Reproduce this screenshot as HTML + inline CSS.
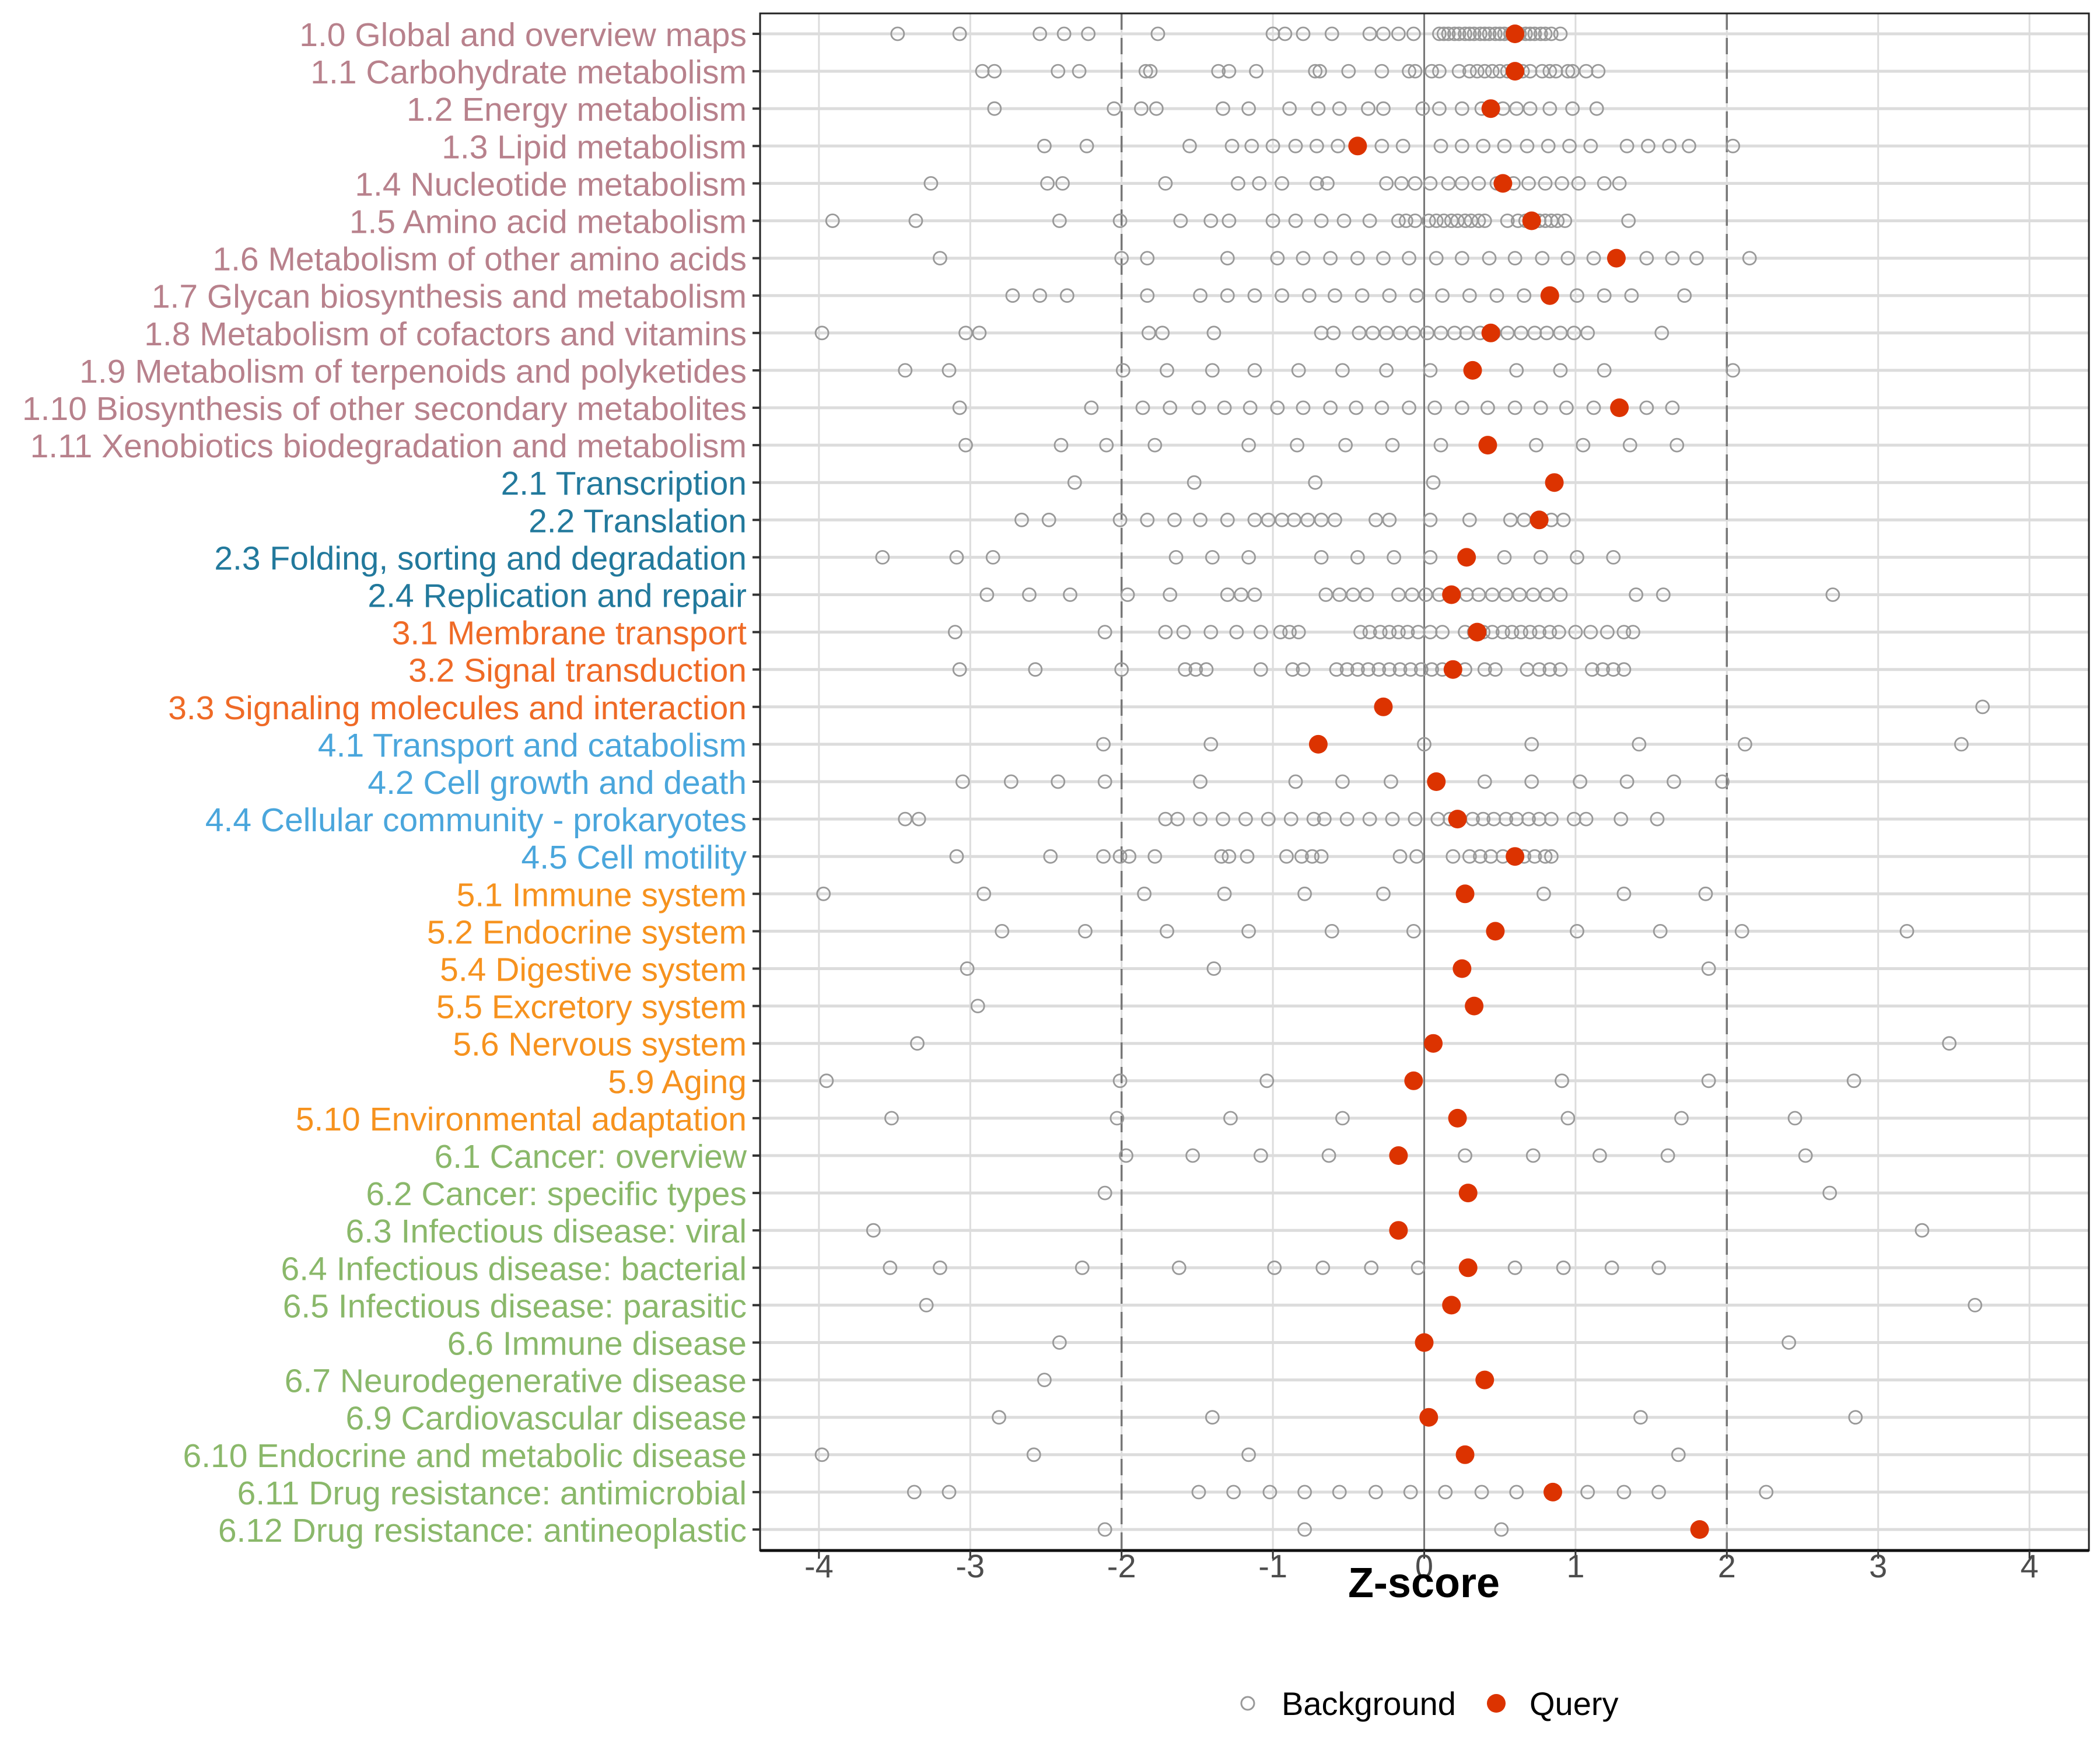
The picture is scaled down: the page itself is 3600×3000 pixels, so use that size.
<!DOCTYPE html>
<html><head><meta charset="utf-8"><style>
html,body{margin:0;padding:0;background:#fff;}
svg{display:block;font-family:"Liberation Sans",sans-serif;}
</style></head><body>
<svg id="chart" width="3600" height="3000" viewBox="0 0 3600 3000" xmlns="http://www.w3.org/2000/svg">
<rect width="3600" height="3000" fill="#fff"/>
<g id="grid"></g>
<g id="marks"></g>
<g id="axes"></g>
<text x="2441" y="2738" text-anchor="middle" font-size="72" font-weight="bold" fill="#000">Z-score</text>
<g>
<circle cx="2139" cy="2920" r="11" fill="none" stroke="#999" stroke-width="3"/>
<text x="2197" y="2940" font-size="56" fill="#000">Background</text>
<circle cx="2565" cy="2920" r="16" fill="#dc3300"/>
<text x="2622" y="2940" font-size="56" fill="#000">Query</text>
</g>
</svg>
<script>
const categories = ["1.0 Global and overview maps","1.1 Carbohydrate metabolism","1.2 Energy metabolism","1.3 Lipid metabolism","1.4 Nucleotide metabolism","1.5 Amino acid metabolism","1.6 Metabolism of other amino acids","1.7 Glycan biosynthesis and metabolism","1.8 Metabolism of cofactors and vitamins","1.9 Metabolism of terpenoids and polyketides","1.10 Biosynthesis of other secondary metabolites","1.11 Xenobiotics biodegradation and metabolism","2.1 Transcription","2.2 Translation","2.3 Folding, sorting and degradation","2.4 Replication and repair","3.1 Membrane transport","3.2 Signal transduction","3.3 Signaling molecules and interaction","4.1 Transport and catabolism","4.2 Cell growth and death","4.4 Cellular community - prokaryotes","4.5 Cell motility","5.1 Immune system","5.2 Endocrine system","5.4 Digestive system","5.5 Excretory system","5.6 Nervous system","5.9 Aging","5.10 Environmental adaptation","6.1 Cancer: overview","6.2 Cancer: specific types","6.3 Infectious disease: viral","6.4 Infectious disease: bacterial","6.5 Infectious disease: parasitic","6.6 Immune disease","6.7 Neurodegenerative disease","6.9 Cardiovascular disease","6.10 Endocrine and metabolic disease","6.11 Drug resistance: antimicrobial","6.12 Drug resistance: antineoplastic"];
const queryValues = [0.6,0.6,0.44,-0.44,0.52,0.71,1.27,0.83,0.44,0.32,1.29,0.42,0.86,0.76,0.28,0.18,0.35,0.19,-0.27,-0.7,0.08,0.22,0.6,0.27,0.47,0.25,0.33,0.06,-0.07,0.22,-0.17,0.29,-0.17,0.29,0.18,0.0,0.4,0.03,0.27,0.85,1.82];
const backgroundValues = [
[-3.48,-3.07,-2.54,-2.38,-2.22,-1.76,-1.0,-0.92,-0.8,-0.61,-0.36,-0.27,-0.17,-0.07,0.1,0.13,0.16,0.2,0.23,0.27,0.3,0.33,0.37,0.4,0.43,0.47,0.5,0.53,0.57,0.6,0.63,0.67,0.7,0.73,0.77,0.8,0.84,0.9],
[-2.92,-2.84,-2.42,-2.28,-1.84,-1.81,-1.36,-1.29,-1.11,-0.72,-0.69,-0.5,-0.28,-0.1,-0.06,0.05,0.1,0.23,0.3,0.35,0.4,0.45,0.5,0.55,0.6,0.65,0.7,0.78,0.83,0.87,0.95,0.98,1.07,1.15],
[-2.84,-2.05,-1.87,-1.77,-1.33,-1.16,-0.89,-0.7,-0.56,-0.37,-0.27,-0.01,0.1,0.25,0.38,0.52,0.61,0.7,0.83,0.98,1.14],
[-2.51,-2.23,-1.55,-1.27,-1.14,-1.0,-0.85,-0.71,-0.57,-0.43,-0.28,-0.14,0.11,0.25,0.39,0.53,0.68,0.82,0.96,1.1,1.34,1.48,1.62,1.75,2.04],
[-3.26,-2.49,-2.39,-1.71,-1.23,-1.09,-0.94,-0.71,-0.64,-0.25,-0.15,-0.06,0.04,0.16,0.25,0.36,0.48,0.59,0.69,0.8,0.91,1.02,1.19,1.29],
[-3.91,-3.36,-2.41,-2.01,-1.61,-1.41,-1.29,-1.0,-0.85,-0.68,-0.53,-0.36,-0.17,-0.12,-0.06,0.03,0.08,0.13,0.18,0.22,0.27,0.31,0.36,0.4,0.55,0.62,0.67,0.76,0.8,0.84,0.88,0.93,1.35],
[-3.2,-2.0,-1.83,-1.3,-0.97,-0.8,-0.62,-0.44,-0.27,-0.1,0.08,0.25,0.43,0.6,0.78,0.95,1.12,1.47,1.64,1.8,2.15],
[-2.72,-2.54,-2.36,-1.83,-1.48,-1.3,-1.12,-0.94,-0.76,-0.59,-0.41,-0.23,-0.05,0.12,0.3,0.48,0.66,0.84,1.01,1.19,1.37,1.72],
[-3.98,-3.03,-2.94,-1.82,-1.73,-1.39,-0.68,-0.6,-0.43,-0.34,-0.25,-0.16,-0.07,0.02,0.11,0.2,0.28,0.37,0.46,0.55,0.64,0.73,0.81,0.9,0.99,1.08,1.57],
[-3.43,-3.14,-1.99,-1.7,-1.4,-1.12,-0.83,-0.54,-0.25,0.04,0.33,0.61,0.9,1.19,2.04],
[-3.07,-2.2,-1.86,-1.68,-1.49,-1.32,-1.15,-0.97,-0.8,-0.62,-0.45,-0.28,-0.1,0.07,0.25,0.42,0.6,0.77,0.94,1.12,1.3,1.47,1.64],
[-3.03,-2.4,-2.1,-1.78,-1.16,-0.84,-0.52,-0.21,0.11,0.42,0.74,1.05,1.36,1.67],
[-2.31,-1.52,-0.72,0.06],
[-2.66,-2.48,-2.01,-1.83,-1.65,-1.48,-1.3,-1.12,-1.03,-0.94,-0.86,-0.77,-0.68,-0.59,-0.32,-0.23,0.04,0.3,0.57,0.66,0.75,0.84,0.92],
[-3.58,-3.09,-2.85,-1.64,-1.4,-1.16,-0.68,-0.44,-0.2,0.04,0.53,0.77,1.01,1.25],
[-2.89,-2.61,-2.34,-1.96,-1.68,-1.3,-1.21,-1.12,-0.65,-0.56,-0.47,-0.38,-0.17,-0.08,0.01,0.1,0.28,0.36,0.45,0.54,0.63,0.72,0.81,0.9,1.4,1.58,2.7],
[-3.1,-2.11,-1.71,-1.59,-1.41,-1.24,-1.08,-0.95,-0.89,-0.83,-0.42,-0.36,-0.29,-0.23,-0.17,-0.11,-0.04,0.04,0.12,0.27,0.33,0.39,0.45,0.52,0.58,0.64,0.7,0.76,0.83,0.89,1.0,1.1,1.21,1.32,1.38],
[-3.07,-2.57,-2.0,-1.58,-1.51,-1.44,-1.08,-0.87,-0.8,-0.58,-0.51,-0.44,-0.37,-0.3,-0.23,-0.16,-0.09,-0.02,0.05,0.12,0.2,0.27,0.4,0.47,0.68,0.76,0.83,0.9,1.11,1.18,1.25,1.32],
[3.69],
[-2.12,-1.41,0,0.71,1.42,2.12,3.55],
[-3.05,-2.73,-2.42,-2.11,-1.48,-0.85,-0.54,-0.22,0.4,0.71,1.03,1.34,1.65,1.97],
[-3.43,-3.34,-1.71,-1.63,-1.48,-1.33,-1.18,-1.03,-0.88,-0.73,-0.66,-0.51,-0.36,-0.21,-0.06,0.09,0.17,0.32,0.39,0.46,0.54,0.61,0.69,0.76,0.84,0.99,1.07,1.3,1.54],
[-3.09,-2.47,-2.12,-2.01,-1.95,-1.78,-1.34,-1.29,-1.17,-0.91,-0.81,-0.74,-0.68,-0.16,-0.05,0.19,0.3,0.37,0.44,0.52,0.59,0.66,0.73,0.8,0.84],
[-3.97,-2.91,-1.85,-1.32,-0.79,-0.27,0.79,1.32,1.86],
[-2.79,-2.24,-1.7,-1.16,-0.61,-0.07,1.01,1.56,2.1,3.19],
[-3.02,-1.39,1.88],
[-2.95],
[-3.35,3.47],
[-3.95,-2.01,-1.04,0.91,1.88,2.84],
[-3.52,-2.03,-1.28,-0.54,0.95,1.7,2.45],
[-1.97,-1.53,-1.08,-0.63,0.27,0.72,1.16,1.61,2.52],
[-2.11,2.68],
[-3.64,3.29],
[-3.53,-3.2,-2.26,-1.62,-0.99,-0.67,-0.35,-0.04,0.6,0.92,1.24,1.55],
[-3.29,3.64],
[-2.41,2.41],
[-2.51],
[-2.81,-1.4,1.43,2.85],
[-3.98,-2.58,-1.16,1.68],
[-3.37,-3.14,-1.49,-1.26,-1.02,-0.79,-0.56,-0.32,-0.09,0.14,0.38,0.61,0.84,1.08,1.32,1.55,2.26],
[-2.11,-0.79,0.51]
];
const xTicks = [-4,-3,-2,-1,0,1,2,3,4];
const thresholds = [-2,2];
const groupColors = {"1":"#b8818c","2":"#22799c","3":"#ef6a26","4":"#4aa6dc","5":"#f6921e","6":"#8ab86a"};

const NS="http://www.w3.org/2000/svg";
const L=1303,R=3581,T=23,B=2658;
const x0=2441.5,unit=259.4;
const xScale=v=>x0+v*unit;
const yScale=i=>58+i*64.1;
function mk(tag,attrs,parent){const e=document.createElementNS(NS,tag);for(const k in attrs)e.setAttribute(k,attrs[k]);parent.appendChild(e);return e;}
const grid=document.getElementById('grid'),marks=document.getElementById('marks'),axes=document.getElementById('axes');

xTicks.forEach(t=>{
  const l=mk('line',{x1:xScale(t),x2:xScale(t),y1:T,y2:B,stroke:'#dcdcdc','stroke-width':3},grid);
  
  
});
categories.forEach((c,i)=>{
  const l=mk('line',{x1:L,x2:R,y1:yScale(i),y2:yScale(i),stroke:'#dcdcdc','stroke-width':5},grid);
  
  
});
thresholds.forEach(t=>{
  const l=mk('line',{x1:xScale(t),x2:xScale(t),y1:T,y2:B,stroke:'#777','stroke-width':3.5,'stroke-dasharray':'28 14'},grid);
  
  
});
const zl=mk('line',{x1:xScale(0),x2:xScale(0),y1:T,y2:B,stroke:'#777','stroke-width':3},grid);



backgroundValues.forEach((row,i)=>{
  row.forEach(v=>{
    const c=mk('circle',{cx:xScale(v),cy:yScale(i),r:11,fill:'none',stroke:'#999','stroke-width':2.8},marks);
    
    
  });
});
queryValues.forEach((v,i)=>{
  const c=mk('circle',{cx:xScale(v),cy:yScale(i),r:16,fill:'#dc3300'},marks);
  
  
});

const frame=mk('rect',{x:L,y:T,width:R-L,height:B-T,fill:'none',stroke:'#222','stroke-width':3},axes);


const bx=mk('line',{x1:L,x2:R,y1:B,y2:B,stroke:'#111','stroke-width':5},axes);



xTicks.forEach(t=>{
  const tk=mk('line',{x1:xScale(t),x2:xScale(t),y1:B,y2:B+14,stroke:'#333','stroke-width':3},axes);
  
  
  const tx=mk('text',{x:xScale(t),y:2704,'text-anchor':'middle','font-size':56,fill:'#4d4d4d'},axes);
  tx.textContent=String(t);
  
  
});
categories.forEach((c,i)=>{
  const tk=mk('line',{x1:L-13,x2:L,y1:yScale(i),y2:yScale(i),stroke:'#333','stroke-width':4},axes);
  
  
  const tx=mk('text',{x:1280,y:yScale(i)+21,'text-anchor':'end','font-size':57,fill:groupColors[c.charAt(0)]},axes);
  tx.textContent=c;
  
  
});
</script>
</body></html>
